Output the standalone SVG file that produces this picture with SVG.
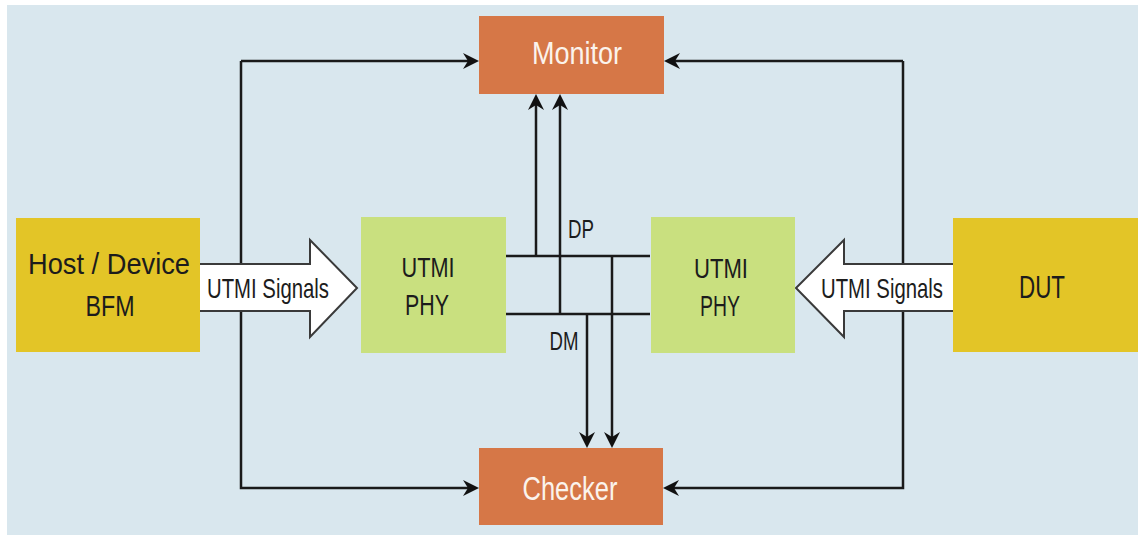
<svg xmlns="http://www.w3.org/2000/svg" width="1138" height="535" viewBox="0 0 1138 535">
<style>
.t{font-family:"Liberation Sans",Arial,sans-serif;text-anchor:middle;fill:#1c1c1c}
.w{fill:#fbf3ec}
.ln{fill:none;stroke:#1a1a1a;stroke-width:2.5}
.arr{marker-end:url(#ah)}
.hollow{fill:#ffffff;stroke:#3a3a3a;stroke-width:2}
.orange{fill:#d67747}
.yellow{fill:#e3c527}
.green{fill:#c9e07f}
</style>
<defs>
<marker id="ah" markerUnits="userSpaceOnUse" markerWidth="20" markerHeight="18" viewBox="-6 -9 20 18" refX="0" refY="0" orient="auto">
<path d="M11,0 L-5,-8 L0,0 L-5,8 Z" fill="#111"/>
</marker>
</defs>
<rect x="0" y="0" width="1138" height="535" fill="#ffffff"/>
<rect x="7" y="5" width="1131" height="530" fill="#d9e7ee"/>
<g id="connectors">
<path class="ln arr" d="M241,61 H468"/>
<path class="ln arr" d="M241,61 V488 H468"/>
<path class="ln arr" d="M903,61 H675"/>
<path class="ln arr" d="M903,61 V488 H674"/>
<path class="ln" d="M506,256 H650"/>
<path class="ln" d="M506,314 H650"/>
<path class="ln arr" d="M536,256 V105"/>
<path class="ln arr" d="M560,314 V105"/>
<path class="ln arr" d="M587,314 V437"/>
<path class="ln arr" d="M612,256 V437"/>
</g>
<g id="label-dp"><text class="t" x="581" y="238" font-size="26" textLength="26" lengthAdjust="spacingAndGlyphs">DP</text></g>
<g id="label-dm"><text class="t" x="564" y="350" font-size="26" textLength="29" lengthAdjust="spacingAndGlyphs">DM</text></g>
<g id="arrow-left">
<polygon class="hollow" points="199,264 310,264 310,240 357,288 310,337 310,311 199,311"/>
<text class="t" x="268" y="298" font-size="28" textLength="122" lengthAdjust="spacingAndGlyphs">UTMI Signals</text>
</g>
<g id="arrow-right">
<polygon class="hollow" points="954,264 844,264 844,240 796,288 844,337 844,311 954,311"/>
<text class="t" x="882" y="298" font-size="28" textLength="122" lengthAdjust="spacingAndGlyphs">UTMI Signals</text>
</g>
<g id="monitor">
<rect class="orange" x="479" y="16" width="185" height="78"/>
<text class="t w" x="577" y="64" font-size="31" textLength="90" lengthAdjust="spacingAndGlyphs">Monitor</text>
</g>
<g id="checker">
<rect class="orange" x="479" y="448" width="184" height="77"/>
<text class="t w" x="570" y="500" font-size="33" textLength="95" lengthAdjust="spacingAndGlyphs">Checker</text>
</g>
<g id="host-bfm">
<rect class="yellow" x="16" y="218" width="184" height="134"/>
<text class="t" x="109" y="274" font-size="29" textLength="162" lengthAdjust="spacingAndGlyphs">Host / Device</text>
<text class="t" x="110" y="316" font-size="29" textLength="49" lengthAdjust="spacingAndGlyphs">BFM</text>
</g>
<g id="dut">
<rect class="yellow" x="953" y="218" width="185" height="134"/>
<text class="t" x="1042" y="298" font-size="32" textLength="46" lengthAdjust="spacingAndGlyphs">DUT</text>
</g>
<g id="phy-left">
<rect class="green" x="361" y="217" width="145" height="136"/>
<text class="t" x="428" y="277" font-size="28" textLength="53" lengthAdjust="spacingAndGlyphs">UTMI</text>
<text class="t" x="427" y="315" font-size="29" textLength="44" lengthAdjust="spacingAndGlyphs">PHY</text>
</g>
<g id="phy-right">
<rect class="green" x="651" y="217" width="144" height="136"/>
<text class="t" x="721" y="278" font-size="28" textLength="54" lengthAdjust="spacingAndGlyphs">UTMI</text>
<text class="t" x="720" y="316" font-size="29" textLength="40" lengthAdjust="spacingAndGlyphs">PHY</text>
</g>
</svg>
